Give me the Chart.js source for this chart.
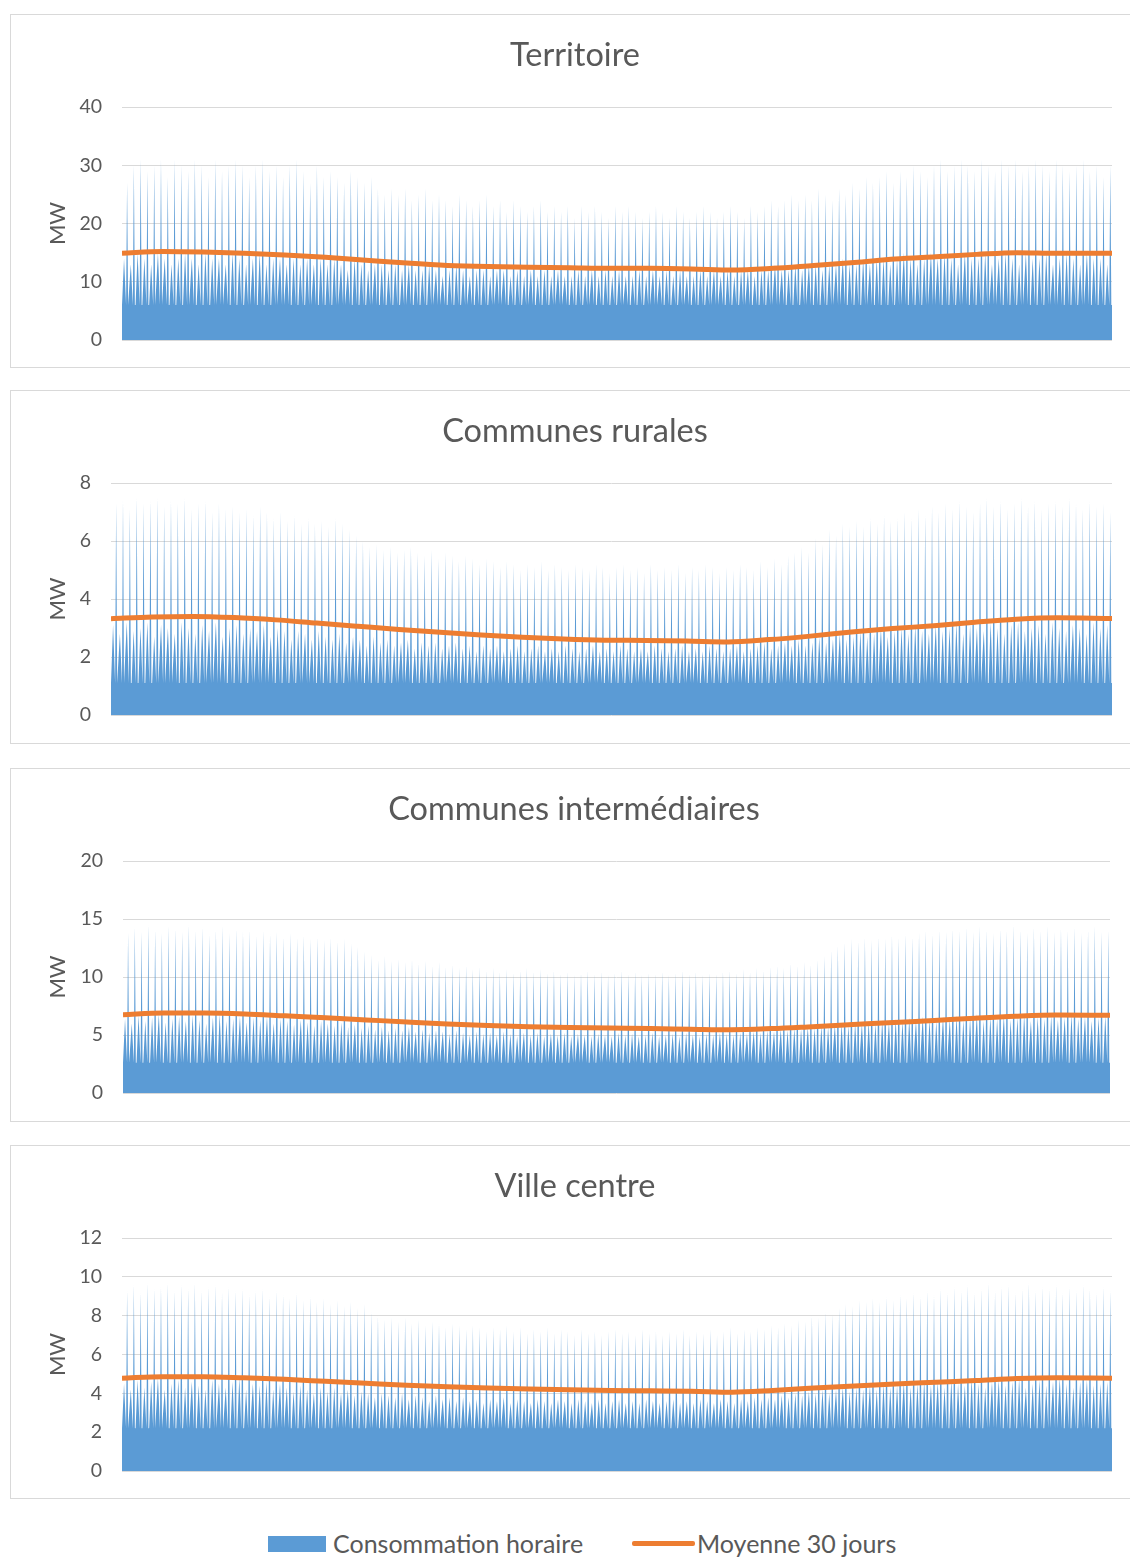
<!DOCTYPE html>
<html>
<head>
<meta charset="utf-8">
<script src="https://cdn.jsdelivr.net/npm/chart.js@4/dist/chart.umd.min.js"></script>
<style>
  body { margin: 0; background: #fff; width: 1130px; height: 1559px; overflow: hidden; position: relative; font-family: Lato, "Open Sans", sans-serif; }
  .box { position: absolute; left: 10px; width: 1128px; height: 352px; border: 1px solid #d9d9d9; background: #fff; }
  .box canvas { display: block; }
  .legend { position: absolute; top: 1528px; left: 0; width: 1130px; height: 30px; color: #595959; font-size: 25px; }
  .legend span { position: absolute; top: 0; line-height: 30px; }
  .sw-bar { position: absolute; left: 268px; top: 8px; width: 58px; height: 16px; background: #5b9bd5; }
  .sw-line { position: absolute; left: 632px; top: 13px; width: 63px; height: 5px; background: #ed7d31; border-radius: 2px; }
</style>
</head>
<body>
<div class="box" style="top:14px"><canvas id="c0" width="1128" height="352"></canvas></div>
<div class="box" style="top:390px"><canvas id="c1" width="1128" height="352"></canvas></div>
<div class="box" style="top:768px"><canvas id="c2" width="1128" height="352"></canvas></div>
<div class="box" style="top:1145px"><canvas id="c3" width="1128" height="352"></canvas></div>
<div class="legend">
  <div class="sw-bar"></div><span style="left:333px">Consommation horaire</span>
  <div class="sw-line"></div><span style="left:697px">Moyenne 30 jours</span>
</div>
<script>
// days of the year where the 30-day average was read
var avgDays = [0, 15, 30, 45, 60, 75, 90, 105, 120, 135, 150, 165, 180, 195, 210, 225, 240, 255, 270, 285, 300, 315, 330, 345, 365];

// Territoire
var terrBase = 6.0;
var terrPeaks = [27, 30, 31, 29, 30, 31, 28, 31, 30, 29,
  31, 30, 28, 31, 29, 30, 31, 30, 28, 30,
  31, 29, 30, 28, 30, 31, 29, 27, 30, 28,
  29, 28, 27, 29, 28, 27, 28, 26, 25, 26,
  25, 26, 24, 25, 26, 24, 25, 24, 23, 25,
  24, 23, 24, 25, 23, 24, 22, 24, 23, 22,
  23, 24, 22, 23, 22, 23, 21, 23, 22, 23,
  22, 21, 23, 22, 23, 22, 21, 22, 23, 22,
  21, 23, 22, 21, 22, 23, 22, 21, 22, 23,
  22, 21, 23, 22, 23, 24, 23, 24, 25, 24,
  25, 24, 26, 25, 24, 26, 25, 27, 26, 28,
  27, 28, 29, 27, 29, 28, 30, 29, 28, 30,
  31, 29, 30, 31, 30, 29, 31, 30, 29, 31,
  30, 31, 29, 30, 31, 30, 29, 31, 30, 29,
  30, 31, 29, 30, 28, 30];
var terrMids = [14, 13, 15, 14, 13, 15, 14, 13, 14, 15,
  14, 13, 15, 14, 14, 13, 15, 14, 13, 14,
  15, 13, 14, 14, 13, 14, 13, 14, 13, 14,
  13, 14, 13, 12, 14, 13, 12, 13, 13, 12,
  13, 12, 13, 12, 12, 13, 12, 11, 12, 13,
  12, 11, 12, 12, 11, 12, 12, 11, 12, 11,
  12, 11, 12, 11, 12, 11, 11, 12, 11, 12,
  11, 12, 11, 12, 11, 11, 12, 11, 12, 11,
  12, 11, 12, 11, 11, 12, 11, 12, 11, 12,
  11, 12, 12, 11, 12, 12, 13, 12, 12, 13,
  12, 13, 13, 12, 13, 13, 14, 13, 13, 14,
  13, 14, 14, 13, 14, 15, 14, 13, 14, 15,
  14, 15, 14, 13, 15, 14, 14, 15, 13, 14,
  15, 14, 13, 15, 14, 14, 15, 13, 14, 15,
  14, 13, 15, 14, 14, 13];
var terrAvg = [14.9, 15.2, 15.1, 14.9, 14.6, 14.2, 13.7, 13.2, 12.8, 12.6, 12.5, 12.4, 12.3, 12.3, 12.2, 12.0, 12.3, 12.8, 13.3, 13.9, 14.3, 14.7, 15.0, 14.9, 14.9];

// Communes rurales
var ruralBase = 1.1;
var ruralPeaks = [7.3, 7.4, 7.1, 7.5, 7.3, 7.4, 7.5, 7.2, 7.4, 7.3,
  7.5, 7.1, 7.3, 7.4, 7.0, 7.3, 7.1, 7.2, 7.0, 7.1,
  6.9, 7.2, 7.0, 6.8, 7.0, 6.7, 6.9, 6.6, 6.8, 6.6,
  6.7, 6.5, 6.8, 6.6, 6.4, 6.2, 6.0, 5.8, 5.9, 5.7,
  5.8, 5.6, 5.7, 5.8, 5.6, 5.5, 5.7, 5.4, 5.6, 5.5,
  5.3, 5.5, 5.4, 5.2, 5.4, 5.3, 5.1, 5.3, 5.2, 5.0,
  5.2, 5.1, 5.3, 5.0, 5.2, 5.1, 5.0, 5.2, 5.1, 5.0,
  5.2, 5.1, 4.9, 5.1, 5.2, 5.0, 5.1, 4.9, 5.2, 5.0,
  5.1, 5.0, 5.2, 4.9, 5.1, 5.0, 5.2, 5.1, 4.9, 5.1,
  5.0, 5.2, 5.1, 5.0, 5.3, 5.1, 5.4, 5.2, 5.5, 5.6,
  5.8, 5.6, 6.1, 5.9, 6.4, 6.2, 6.6, 6.5, 6.7, 6.5,
  6.8, 6.6, 6.9, 6.7, 6.8, 7.0, 6.8, 7.1, 6.9, 7.2,
  7.0, 7.3, 7.1, 7.4, 7.2, 7.0, 7.3, 7.5, 7.2, 7.4,
  7.1, 7.3, 7.5, 7.2, 7.4, 7.1, 7.3, 7.4, 7.2, 7.5,
  7.3, 7.1, 7.4, 7.2, 7.3, 7.0];
var ruralMids = [3.1, 2.8, 3.2, 2.9, 3.0, 3.2, 2.7, 3.1, 3.0, 2.8,
  3.2, 3.0, 2.8, 3.1, 2.9, 3.2, 2.7, 3.0, 3.1, 2.8,
  3.0, 2.9, 3.1, 2.7, 3.0, 2.9, 2.6, 2.9, 2.8, 2.6,
  2.9, 2.7, 2.6, 2.8, 2.5, 2.7, 2.6, 2.4, 2.7, 2.5,
  2.6, 2.4, 2.5, 2.6, 2.3, 2.5, 2.4, 2.5, 2.3, 2.4,
  2.5, 2.3, 2.4, 2.2, 2.4, 2.3, 2.4, 2.2, 2.3, 2.4,
  2.2, 2.3, 2.4, 2.2, 2.3, 2.2, 2.4, 2.3, 2.2, 2.3,
  2.4, 2.2, 2.3, 2.2, 2.4, 2.3, 2.2, 2.3, 2.2, 2.4,
  2.3, 2.2, 2.3, 2.4, 2.2, 2.3, 2.2, 2.4, 2.3, 2.2,
  2.3, 2.4, 2.2, 2.3, 2.4, 2.5, 2.3, 2.4, 2.5, 2.4,
  2.6, 2.4, 2.5, 2.7, 2.5, 2.6, 2.8, 2.6, 2.7, 2.9,
  2.7, 2.8, 3.0, 2.7, 2.9, 3.0, 2.8, 3.1, 2.9, 2.8,
  3.1, 2.9, 3.0, 3.2, 2.8, 3.1, 3.0, 2.9, 3.2, 3.0,
  2.8, 3.1, 3.2, 2.9, 3.0, 3.1, 2.8, 3.2, 3.0, 2.9,
  3.1, 3.0, 2.8, 3.2, 3.0, 3.1];
var ruralAvg = [3.32, 3.38, 3.40, 3.36, 3.28, 3.17, 3.06, 2.95, 2.85, 2.76, 2.68, 2.62, 2.58, 2.57, 2.55, 2.52, 2.60, 2.72, 2.86, 2.98, 3.08, 3.20, 3.30, 3.35, 3.33];

// Communes intermédiaires
var interBase = 2.6;
var interPeaks = [13.8, 14.3, 13.9, 14.5, 14.1, 13.8, 14.4, 14.2, 13.9, 14.5,
  14.0, 14.3, 13.7, 14.1, 14.4, 13.8, 14.2, 13.9, 14.1, 13.6,
  14.0, 13.7, 13.9, 13.5, 13.8, 13.4, 13.6, 13.3, 13.5, 13.2,
  13.4, 13.1, 13.3, 12.9, 12.6, 12.2, 11.9, 11.5, 11.8, 11.4,
  11.6, 11.3, 11.5, 11.2, 11.4, 11.0, 11.3, 10.9, 11.1, 10.8,
  11.0, 10.7, 10.9, 10.6, 10.8, 10.5, 10.7, 10.4, 10.6, 10.8,
  10.5, 10.7, 10.4, 10.6, 10.3, 10.5, 10.2, 10.4, 10.6, 10.3,
  10.5, 10.2, 10.4, 10.6, 10.3, 10.5, 10.2, 10.4, 10.3, 10.5,
  10.2, 10.4, 10.6, 10.3, 10.5, 10.2, 10.4, 10.3, 10.5, 10.6,
  10.4, 10.7, 10.5, 10.8, 10.6, 10.9, 11.0, 10.8, 11.2, 11.0,
  11.3, 11.1, 11.5, 11.8, 12.3, 12.7, 13.0, 13.3, 13.1, 13.4,
  13.2, 13.5, 13.3, 13.6, 13.4, 13.7, 13.5, 13.8, 14.0, 13.7,
  14.1, 13.9, 14.2, 14.0, 14.3, 13.9, 14.4, 14.1, 13.8, 14.2,
  14.0, 14.5, 14.1, 13.8, 14.3, 14.0, 14.4, 13.9, 14.2, 14.0,
  14.3, 13.8, 14.1, 14.4, 13.9, 14.0];
var interMids = [6.4, 6.0, 6.7, 6.2, 6.5, 6.8, 6.1, 6.4, 6.6, 6.2,
  6.7, 6.3, 6.0, 6.5, 6.8, 6.2, 6.4, 6.6, 6.1, 6.5,
  6.3, 6.6, 6.0, 6.4, 6.2, 5.9, 6.3, 6.1, 5.8, 6.2,
  6.0, 5.8, 6.1, 5.7, 5.9, 5.6, 5.8, 5.5, 5.7, 5.4,
  5.6, 5.4, 5.7, 5.3, 5.5, 5.2, 5.4, 5.3, 5.1, 5.4,
  5.2, 5.0, 5.3, 5.1, 5.2, 5.0, 5.3, 5.1, 4.9, 5.2,
  5.0, 5.2, 4.9, 5.1, 5.0, 5.2, 4.9, 5.1, 5.0, 4.9,
  5.1, 5.0, 4.9, 5.2, 5.0, 5.1, 4.9, 5.0, 5.2, 4.9,
  5.0, 5.1, 4.9, 5.2, 5.0, 4.9, 5.1, 5.0, 5.2, 5.1,
  5.0, 5.2, 5.1, 5.3, 5.2, 5.4, 5.3, 5.5, 5.4, 5.6,
  5.5, 5.7, 5.6, 5.8, 5.7, 5.9, 6.0, 5.8, 6.1, 6.0,
  6.2, 6.0, 6.3, 6.1, 6.4, 6.2, 6.5, 6.3, 6.6, 6.4,
  6.2, 6.6, 6.4, 6.7, 6.3, 6.5, 6.8, 6.2, 6.6, 6.4,
  6.7, 6.3, 6.5, 6.8, 6.2, 6.6, 6.4, 6.7, 6.3, 6.5,
  6.8, 6.4, 6.6, 6.2, 6.5, 6.7];
var interAvg = [6.75, 6.90, 6.90, 6.82, 6.65, 6.48, 6.30, 6.12, 5.95, 5.82, 5.72, 5.65, 5.60, 5.56, 5.50, 5.45, 5.55, 5.72, 5.90, 6.08, 6.25, 6.45, 6.62, 6.72, 6.70];

// Ville centre
var villeBase = 2.2;
var villePeaks = [9.3, 9.6, 9.2, 9.7, 9.4, 9.5, 9.7, 9.3, 9.6, 9.4,
  9.7, 9.3, 9.5, 9.6, 9.2, 9.5, 9.3, 9.4, 9.1, 9.3,
  9.4, 9.0, 9.3, 9.1, 8.9, 9.2, 8.8, 9.0, 8.7, 8.9,
  8.6, 8.8, 8.5, 8.7, 8.4, 8.6, 8.2, 8.0, 7.8, 7.9,
  7.7, 7.9, 7.6, 7.8, 7.5, 7.7, 7.6, 7.4, 7.6, 7.5,
  7.3, 7.5, 7.4, 7.2, 7.4, 7.3, 7.5, 7.2, 7.4, 7.1,
  7.3, 7.2, 7.4, 7.1, 7.3, 7.2, 7.0, 7.3, 7.1, 7.2,
  7.0, 7.2, 7.3, 7.1, 7.2, 7.0, 7.3, 7.1, 7.2, 7.0,
  7.2, 7.1, 7.3, 7.0, 7.2, 7.1, 7.3, 7.0, 7.2, 7.4,
  7.1, 7.3, 7.2, 7.4, 7.3, 7.5, 7.4, 7.6, 7.5, 7.8,
  7.7, 8.0, 7.9, 8.2, 8.1, 8.4, 8.6, 8.5, 8.8, 8.7,
  8.9, 8.7, 9.0, 8.8, 9.1, 8.9, 9.2, 9.0, 9.3, 9.1,
  9.4, 9.2, 9.5, 9.3, 9.6, 9.2, 9.4, 9.7, 9.3, 9.5,
  9.6, 9.2, 9.4, 9.7, 9.3, 9.5, 9.4, 9.6, 9.2, 9.5,
  9.3, 9.6, 9.4, 9.2, 9.5, 9.3];
var villeMids = [4.5, 4.2, 4.7, 4.3, 4.6, 4.8, 4.2, 4.5, 4.7, 4.3,
  4.6, 4.4, 4.2, 4.7, 4.5, 4.3, 4.6, 4.8, 4.2, 4.5,
  4.4, 4.6, 4.2, 4.5, 4.3, 4.1, 4.4, 4.2, 4.0, 4.3,
  4.1, 4.3, 4.0, 4.2, 3.9, 4.1, 4.0, 3.8, 4.0, 3.9,
  3.8, 4.0, 3.7, 3.9, 3.8, 3.6, 3.9, 3.7, 3.8, 3.6,
  3.8, 3.6, 3.7, 3.5, 3.7, 3.6, 3.8, 3.5, 3.7, 3.6,
  3.5, 3.7, 3.6, 3.5, 3.7, 3.6, 3.5, 3.7, 3.6, 3.5,
  3.7, 3.5, 3.6, 3.7, 3.5, 3.6, 3.5, 3.7, 3.6, 3.5,
  3.6, 3.7, 3.5, 3.6, 3.5, 3.7, 3.6, 3.5, 3.7, 3.6,
  3.5, 3.7, 3.6, 3.8, 3.7, 3.8, 3.7, 3.9, 3.8, 4.0,
  3.9, 4.1, 4.0, 4.2, 4.0, 4.2, 4.3, 4.1, 4.3, 4.2,
  4.4, 4.2, 4.5, 4.3, 4.4, 4.6, 4.3, 4.5, 4.7, 4.4,
  4.6, 4.3, 4.7, 4.5, 4.4, 4.8, 4.5, 4.3, 4.6, 4.7,
  4.4, 4.6, 4.8, 4.3, 4.5, 4.7, 4.4, 4.6, 4.8, 4.5,
  4.3, 4.6, 4.7, 4.4, 4.5, 4.6];
var villeAvg = [4.78, 4.86, 4.86, 4.80, 4.72, 4.62, 4.52, 4.42, 4.34, 4.27, 4.22, 4.18, 4.15, 4.13, 4.11, 4.06, 4.15, 4.27, 4.38, 4.48, 4.57, 4.66, 4.76, 4.80, 4.78];

var BLUE = "#5b9bd5";
var ORANGE = "#ed7d31";
var GREY = "#595959";
var FONT = "Lato, 'Open Sans', sans-serif";

// each listed value is one load cycle: trough, daily level, trough, short peak, trough
function hourly(base, peaks, mids) {
  var step = 365 / peaks.length;
  var pts = [];
  for (var k = 0; k < peaks.length; k++) {
    var d = k * step;
    pts.push({ x: d, y: base });
    pts.push({ x: d + step * 0.3, y: mids[k] });
    pts.push({ x: d + step * 0.6, y: base });
    pts.push({ x: d + step * 0.75, y: peaks[k] });
    pts.push({ x: d + step * 0.9, y: base });
  }
  pts.push({ x: 365, y: base });
  return pts;
}

function average(values) {
  return values.map(function (v, i) { return { x: avgDays[i], y: v }; });
}

function panel(id, title, base, peaks, mids, avg, yMax, yStep, plotLeft, plotRight, plotBottom) {
  new Chart(document.getElementById(id), {
    type: "line",
    data: {
      datasets: [
        {
          label: "Moyenne 30 jours",
          data: average(avg),
          borderColor: ORANGE,
          borderWidth: 5,
          pointRadius: 0,
          cubicInterpolationMode: "monotone",
          fill: false
        },
        {
          label: "Consommation horaire",
          data: hourly(base, peaks, mids),
          borderColor: "rgba(0,0,0,0)",
          borderWidth: 0,
          backgroundColor: BLUE,
          pointRadius: 0,
          tension: 0,
          fill: "origin"
        }
      ]
    },
    options: {
      responsive: false,
      animation: false,
      events: [],
      layout: { padding: { left: 27, right: 1128 - plotRight, bottom: 352 - plotBottom, top: 0 } },
      plugins: {
        legend: { display: false },
        tooltip: { enabled: false },
        title: {
          display: true,
          text: title,
          color: GREY,
          font: { family: FONT, size: 32.5, weight: "normal", lineHeight: 1.2 },
          padding: { top: 21.5, bottom: 31.5 }
        }
      },
      scales: {
        x: { type: "linear", min: 0, max: 365, display: false },
        y: {
          min: 0,
          max: yMax,
          afterFit: function (s) { s.width = plotLeft - 27; },
          ticks: { stepSize: yStep, color: GREY, padding: 0, font: { family: FONT, size: 19.5 } },
          grid: { color: "#d9d9d9", drawTicks: true, tickLength: 20, tickColor: "rgba(0,0,0,0)" },
          border: { display: false },
          title: { display: true, text: "MW", color: GREY, padding: { top: 7, bottom: 0 }, font: { family: FONT, size: 22, lineHeight: 1.2 } }
        }
      }
    }
  });
}

panel("c0", "Territoire", terrBase, terrPeaks, terrMids, terrAvg, 40, 10, 111, 1101, 325);
panel("c1", "Communes rurales", ruralBase, ruralPeaks, ruralMids, ruralAvg, 8, 2, 100, 1101, 324);
panel("c2", "Communes intermédiaires", interBase, interPeaks, interMids, interAvg, 20, 5, 112, 1099, 324);
panel("c3", "Ville centre", villeBase, villePeaks, villeMids, villeAvg, 12, 2, 111, 1101, 325);
</script>
</body>
</html>
